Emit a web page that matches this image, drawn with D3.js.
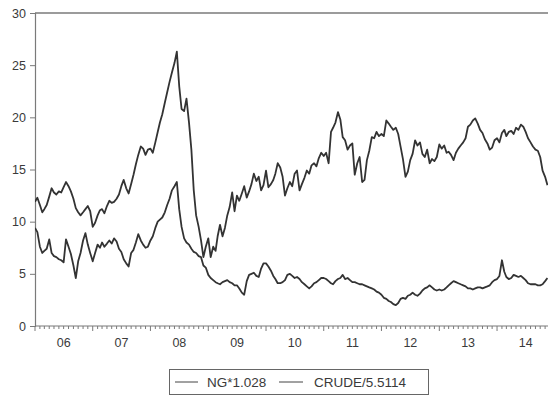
<!DOCTYPE html>
<html>
<head>
<meta charset="utf-8">
<script src="https://cdn.jsdelivr.net/npm/d3@7"></script>
<style>
  html, body { margin: 0; padding: 0; background: #fff; }
  svg { display: block; }
  text { font-family: "Liberation Sans", Arial, sans-serif; fill: #3a3a3a; }
</style>
</head>
<body>
<svg id="chart" width="548" height="397"></svg>
<script>
// Semi-monthly observations (1st and 16th of each month), Jan 2006 onward.
const ng2006 = [9.4, 9.0, 7.6, 7.0, 7.2, 7.4, 8.3, 7.0, 6.7, 6.6, 6.4, 6.3, 6.1, 8.3, 7.6, 6.9, 5.8, 4.6, 6.2, 7.0, 8.2, 8.9, 7.8, 7.0];
const ng2007 = [6.2, 7.0, 7.8, 7.5, 8.0, 7.6, 7.9, 8.2, 7.9, 8.4, 8.1, 7.4, 7.1, 6.4, 6.0, 5.7, 7.0, 7.3, 8.0, 8.8, 8.2, 7.8, 7.5, 7.6];
const ng2008 = [8.2, 8.6, 9.4, 10.0, 10.2, 10.4, 10.9, 11.6, 12.2, 13.0, 13.4, 13.8, 11.2, 9.5, 8.4, 8.0, 7.8, 7.4, 7.1, 7.0, 6.7, 6.6, 5.8, 5.6];
const ng2009 = [4.9, 4.6, 4.4, 4.2, 4.1, 4.0, 4.2, 4.3, 4.4, 4.2, 4.1, 3.9, 3.9, 3.6, 3.2, 3.0, 4.3, 4.9, 5.0, 5.1, 4.8, 4.7, 5.5, 6.0];
const ng2010 = [6.0, 5.7, 5.3, 4.8, 4.5, 4.1, 4.1, 4.2, 4.4, 4.9, 5.0, 4.8, 4.6, 4.7, 4.5, 4.2, 4.0, 3.8, 3.6, 3.8, 4.1, 4.2, 4.4, 4.6];
const ng2011 = [4.6, 4.5, 4.3, 4.1, 4.0, 4.3, 4.5, 4.6, 4.9, 4.5, 4.6, 4.4, 4.2, 4.2, 4.1, 4.0, 4.0, 3.9, 3.8, 3.7, 3.6, 3.5, 3.3, 3.2];
const ng2012 = [3.0, 2.7, 2.6, 2.4, 2.3, 2.1, 2.0, 2.2, 2.6, 2.7, 2.6, 2.9, 3.0, 3.2, 3.0, 2.9, 3.1, 3.4, 3.6, 3.7, 3.9, 3.7, 3.5, 3.4];
const ng2013 = [3.5, 3.4, 3.5, 3.7, 3.9, 4.1, 4.3, 4.2, 4.1, 4.0, 3.9, 3.8, 3.6, 3.6, 3.5, 3.6, 3.7, 3.7, 3.6, 3.7, 3.8, 3.9, 4.2, 4.4];
const ng2014 = [4.5, 4.8, 6.3, 5.2, 4.7, 4.5, 4.6, 4.9, 4.8, 4.7, 4.8, 4.6, 4.4, 4.1, 4.0, 4.0, 4.0, 3.9, 3.9, 4.0, 4.3, 4.6];

const crude2006 = [11.9, 12.3, 11.6, 10.9, 11.2, 11.6, 12.4, 13.2, 12.8, 12.6, 12.9, 12.8, 13.3, 13.8, 13.4, 12.9, 12.2, 11.3, 10.9, 10.6, 10.9, 11.2, 11.5, 11.0];
const crude2007 = [9.5, 9.9, 10.6, 11.1, 11.2, 10.8, 11.5, 12.0, 11.8, 11.9, 12.2, 12.6, 13.4, 14.0, 13.2, 12.7, 13.6, 14.5, 15.5, 16.4, 17.2, 17.0, 16.4, 16.9];
const crude2008 = [17.0, 16.6, 17.6, 18.6, 19.5, 20.3, 21.4, 22.4, 23.4, 24.3, 25.2, 26.3, 23.0, 20.8, 20.6, 21.8, 19.5, 16.9, 13.0, 10.6, 9.5, 8.2, 6.6, 7.6];
const crude2009 = [8.4, 6.6, 7.6, 7.2, 8.6, 9.7, 8.6, 9.4, 10.6, 11.4, 12.8, 11.0, 12.5, 12.0, 12.7, 13.4, 12.3, 12.9, 13.6, 14.6, 13.9, 14.3, 13.0, 13.5];
const crude2010 = [14.9, 13.3, 13.6, 14.0, 14.6, 15.6, 15.2, 14.3, 12.5, 13.2, 13.8, 13.4, 14.6, 14.9, 13.0, 13.6, 14.2, 14.9, 14.6, 15.4, 15.6, 15.3, 16.1, 16.6];
const crude2011 = [16.3, 16.6, 15.6, 18.6, 19.0, 19.5, 20.5, 19.8, 18.1, 17.8, 16.9, 17.3, 17.5, 14.5, 15.6, 16.2, 13.8, 14.0, 15.9, 16.8, 18.1, 18.0, 18.6, 18.2];
const crude2012 = [18.4, 18.2, 19.7, 19.4, 19.1, 18.8, 19.0, 18.4, 17.2, 16.0, 14.3, 14.8, 15.9, 16.5, 17.8, 17.3, 17.6, 16.5, 16.2, 16.9, 15.6, 16.0, 15.8, 16.2];
const crude2013 = [17.4, 17.0, 17.3, 16.6, 16.7, 16.4, 15.9, 16.6, 17.0, 17.3, 17.6, 18.0, 19.1, 19.3, 19.7, 19.9, 19.4, 18.8, 18.5, 17.9, 17.5, 16.9, 17.1, 17.8];
const crude2014 = [18.0, 17.6, 18.5, 18.8, 18.2, 18.6, 18.7, 18.4, 19.0, 18.8, 19.3, 19.1, 18.6, 18.0, 17.6, 17.2, 16.9, 16.8, 16.2, 14.9, 14.3, 13.5];

const yearLabels = ["06", "07", "08", "09", "10", "11", "12", "13", "14"];
const yTickValues = [0, 5, 10, 15, 20, 25, 30];
const seriesNames = ["NG*1.028", "CRUDE/5.5114"];

const ngValues = [].concat(ng2006, ng2007, ng2008, ng2009, ng2010, ng2011, ng2012, ng2013, ng2014);
const crudeValues = [].concat(crude2006, crude2007, crude2008, crude2009, crude2010, crude2011, crude2012, crude2013, crude2014);

// observation i falls on the 1st (even i) or 16th (odd i) of month floor(i/2)
const dateOf = i => new Date(2006, Math.floor(i / 2), i % 2 === 0 ? 1 : 16);
const toPoints = vals => vals.map((v, i) => ({ date: dateOf(i), value: v }));

const svg = d3.select("#chart");
const plotLeft = 35, plotTop = 13, plotBottom = 326, plotRight = 548;
const yearWidth = 57.75;

const x = d3.scaleTime()
  .domain([new Date(2006, 0, 1), new Date(2015, 0, 1)])
  .range([plotLeft, plotLeft + 9 * yearWidth]);
const y = d3.scaleLinear().domain([0, 30]).range([plotBottom, plotTop]);

const axisColor = "#7a7a7a";

// top frame line
svg.append("line")
  .attr("x1", plotLeft).attr("x2", plotRight)
  .attr("y1", plotTop).attr("y2", plotTop)
  .attr("stroke", axisColor).attr("stroke-width", 1.5);

// y axis
const yAxis = d3.axisLeft(y).tickValues(yTickValues).tickSize(5).tickPadding(4);
const gy = svg.append("g").attr("transform", `translate(${plotLeft},0)`).call(yAxis);
gy.select(".domain").attr("stroke", axisColor).attr("stroke-width", 1.2);
gy.selectAll(".tick line").attr("stroke", axisColor);
gy.selectAll(".tick text")
  .style("font-family", "'Liberation Sans', Arial, sans-serif")
  .style("font-size", "12.5px").attr("fill", "#3a3a3a");

// x axis: monthly minor ticks, longer ticks at year starts
const gx = svg.append("g").attr("transform", `translate(0,${plotBottom})`);
gx.append("line")
  .attr("x1", plotLeft).attr("x2", plotRight)
  .attr("stroke", axisColor).attr("stroke-width", 1.2);
const months = d3.timeMonth.range(new Date(2006, 0, 1), new Date(2015, 0, 1));
gx.selectAll("line.minor")
  .data(months)
  .join("line")
  .attr("class", "minor")
  .attr("x1", d => x(d)).attr("x2", d => x(d))
  .attr("y1", 0).attr("y2", d => d.getMonth() === 0 ? 5 : 3)
  .attr("stroke", axisColor).attr("stroke-width", 1);

const yearStarts = d3.timeYear.range(new Date(2006, 0, 1), new Date(2015, 0, 1));
gx.selectAll("text.year")
  .data(yearStarts)
  .join("text")
  .attr("class", "year")
  .attr("x", d => x(new Date(d.getFullYear(), 6, 2)))
  .attr("y", 21)
  .attr("text-anchor", "middle")
  .style("font-size", "12.5px")
  .text((d, i) => yearLabels[i]);

// series lines
const line = d3.line()
  .x(d => x(d.date))
  .y(d => y(d.value));

svg.append("defs").append("clipPath").attr("id", "plot")
  .append("rect").attr("x", plotLeft).attr("y", 0)
  .attr("width", plotRight - plotLeft).attr("height", plotBottom + 1);

const plot = svg.append("g").attr("clip-path", "url(#plot)");
[ngValues, crudeValues].forEach(vals => {
  plot.append("path")
    .datum(toPoints(vals))
    .attr("fill", "none")
    .attr("stroke", "#333")
    .attr("stroke-width", 1.8)
    .attr("stroke-linejoin", "round")
    .attr("d", line);
});

// legend
const lg = svg.append("g");
lg.append("rect")
  .attr("x", 169.5).attr("y", 369.5).attr("width", 259).attr("height", 25)
  .attr("fill", "#fff").attr("stroke", "#666").attr("stroke-width", 1);
const legendItems = [
  { x1: 175, x2: 198, tx: 207, label: seriesNames[0] },
  { x1: 279, x2: 303, tx: 314, label: seriesNames[1] }
];
legendItems.forEach(it => {
  lg.append("line")
    .attr("x1", it.x1).attr("x2", it.x2).attr("y1", 382).attr("y2", 382)
    .attr("stroke", "#444").attr("stroke-width", 1);
  lg.append("text")
    .attr("x", it.tx).attr("y", 382)
    .attr("dy", "0.35em")
    .style("font-size", "13.5px")
    .text(it.label);
});
</script>
</body>
</html>
